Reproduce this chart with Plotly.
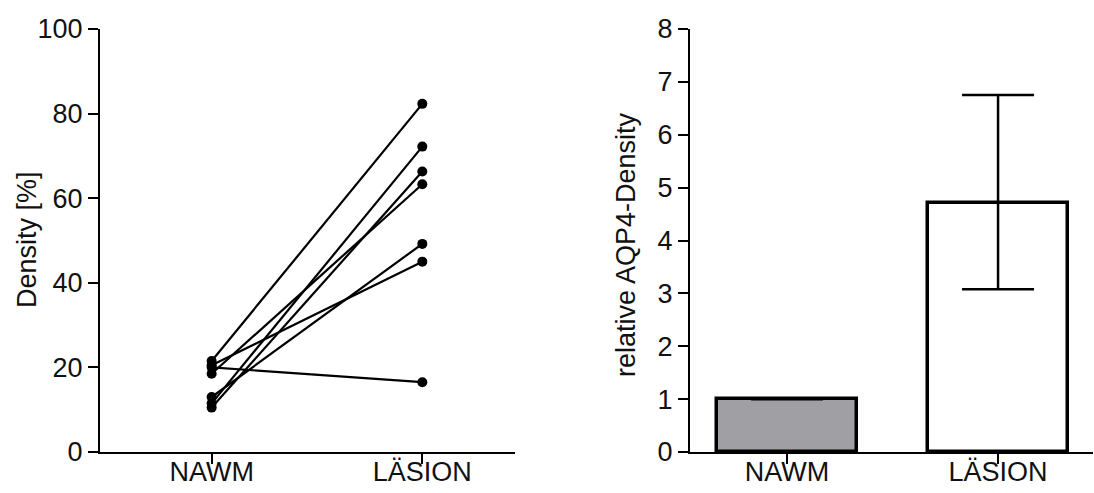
import plotly.graph_objects as go

# Paired densities per sample (%)
groups = ["NAWM", "LÄSION"]
nawm_density = [21.5, 20.5, 20.0, 18.5, 13.0, 11.5, 10.5]
lesion_density = [82.3, 45.0, 16.5, 63.3, 49.2, 72.2, 66.3]

# Relative AQP4 density (mean with asymmetric error)
rel_mean = [1.0, 4.7]
rel_err_plus = [0.0, 2.05]
rel_err_minus = [0.0, 1.62]
bar_fills = ["#a0a0a4", "#ffffff"]

left_ticks = [0, 20, 40, 60, 80, 100]
right_ticks = [0, 1, 2, 3, 4, 5, 6, 7, 8]

FONT = "Liberation Sans, Arial, sans-serif"
INK = "#111111"
FSIZE = 27

fig = go.Figure()

for a, b in zip(nawm_density, lesion_density):
    fig.add_trace(go.Scatter(
        x=groups, y=[a, b], mode="lines+markers",
        line=dict(color="black", width=2.2),
        marker=dict(color="black", size=10),
        xaxis="x", yaxis="y", showlegend=False,
    ))

fig.add_trace(go.Bar(
    x=groups, y=rel_mean, width=0.66,
    marker=dict(color=bar_fills, line=dict(color="black", width=3.5)),
    error_y=dict(type="data", symmetric=False, array=rel_err_plus,
                 arrayminus=rel_err_minus, color="black", thickness=2.5,
                 width=36),
    xaxis="x2", yaxis="y2", showlegend=False,
))

axis_common = dict(
    showline=True, linecolor="black", linewidth=2,
    ticks="outside", ticklen=10, tickwidth=2, tickcolor="black",
    showgrid=False, zeroline=False, automargin=False,
    tickfont=dict(family=FONT, size=FSIZE, color=INK),
)
x_extra = dict(ticklabelstandoff=-15)

ydom = [41 / 493, 464 / 493]

fig.update_layout(
    width=1094, height=493,
    margin=dict(l=0, r=0, t=0, b=0, autoexpand=False),
    paper_bgcolor="white", plot_bgcolor="white",
    bargap=0,
    xaxis=dict(domain=[100 / 1094, 515 / 1094], range=[-0.53, 1.44],
               type="category", **axis_common, **x_extra),
    yaxis=dict(domain=ydom, range=[0, 100], tickvals=left_ticks,
               anchor="x", **axis_common),
    xaxis2=dict(domain=[690 / 1094, 1093 / 1094], range=[-0.46, 1.45],
                type="category", anchor="y2", **axis_common, **x_extra),
    yaxis2=dict(domain=ydom, range=[0, 8], tickvals=right_ticks,
                anchor="x2", **axis_common),
    annotations=[
        dict(text="Density [%]", x=27 / 1094, y=(493 - 240) / 493,
             xref="paper", yref="paper", textangle=-90, showarrow=False,
             xanchor="center", yanchor="middle",
             font=dict(family=FONT, size=FSIZE, color=INK)),
        dict(text="relative AQP4-Density", x=626 / 1094, y=(493 - 245) / 493,
             xref="paper", yref="paper", textangle=-90, showarrow=False,
             xanchor="center", yanchor="middle",
             font=dict(family=FONT, size=FSIZE, color=INK)),
    ],
)

fig.write_html("out.html")
